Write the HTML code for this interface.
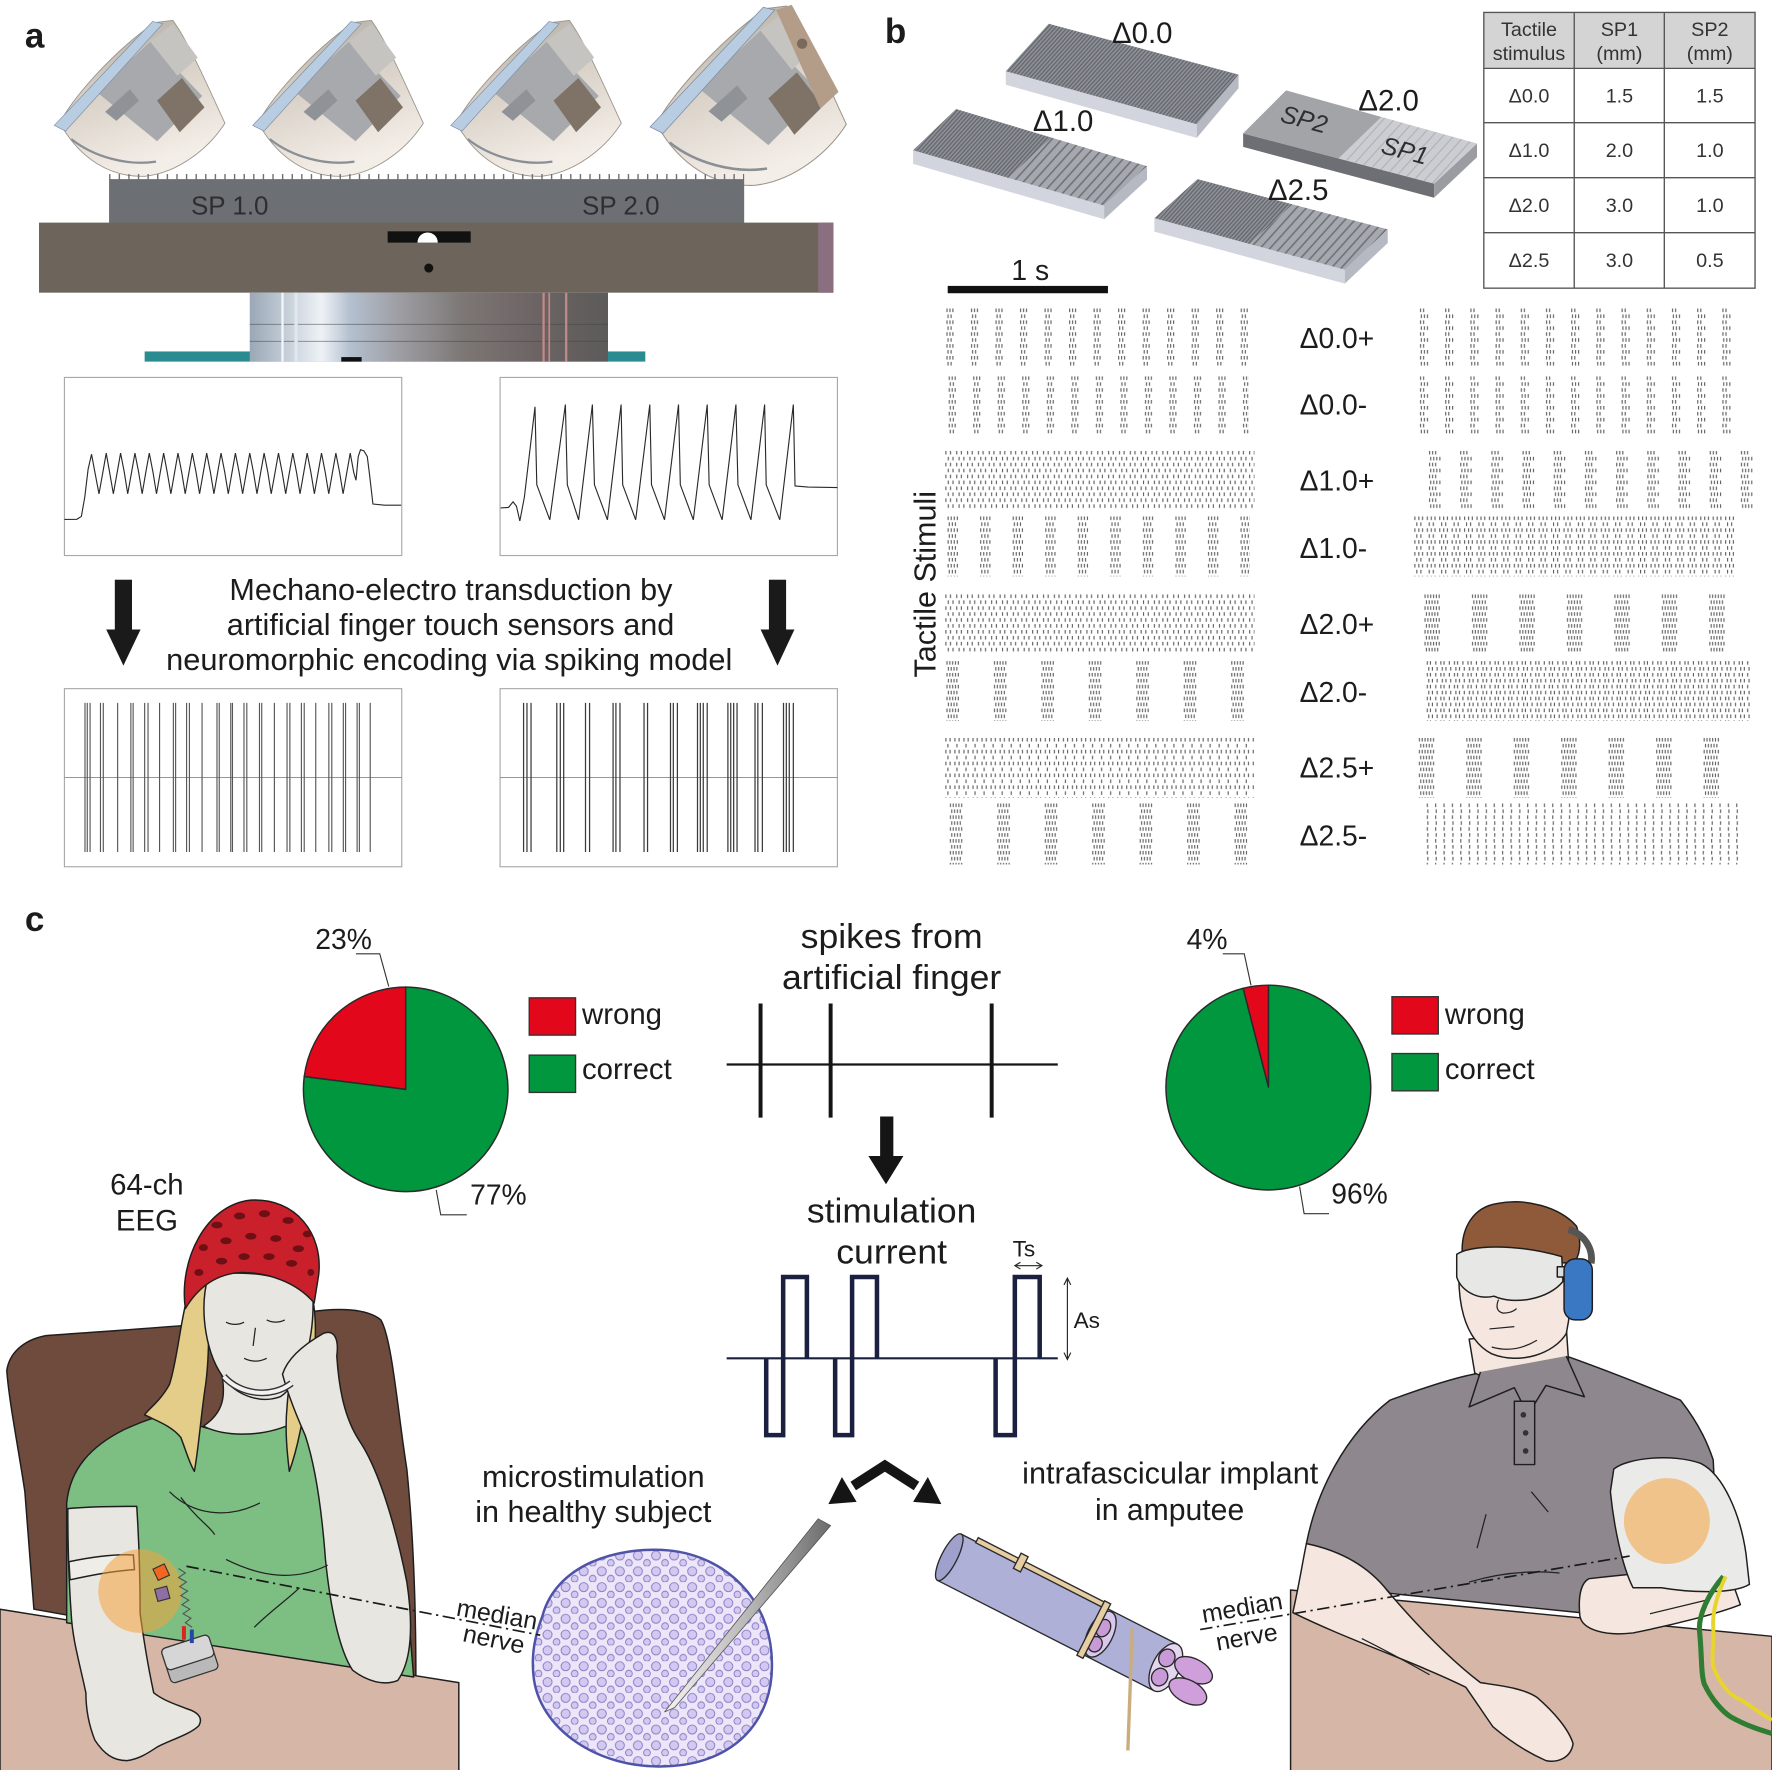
<!DOCTYPE html>
<html><head><meta charset="utf-8"><title>figure</title>
<style>
html,body{margin:0;padding:0;background:#fff;width:1772px;height:1770px;overflow:hidden}
svg{display:block}
text{font-family:"Liberation Sans",Arial,Helvetica,sans-serif;fill:#1c1c1c}
</style></head><body>
<svg xmlns="http://www.w3.org/2000/svg" width="1772" height="1770" viewBox="0 0 1568 1566.3" preserveAspectRatio="none">
<defs>
<linearGradient id="shell" x1="0" y1="0" x2="0.35" y2="1">
<stop offset="0" stop-color="#aaa59e"/><stop offset="0.45" stop-color="#d6cec4"/><stop offset="1" stop-color="#f4eee8"/>
</linearGradient>
<linearGradient id="cyl" x1="0" y1="0" x2="1" y2="0">
<stop offset="0" stop-color="#9aa7b6"/><stop offset="0.1" stop-color="#c4cdd8"/><stop offset="0.2" stop-color="#eef2f6"/><stop offset="0.28" stop-color="#b4c0d0"/><stop offset="0.4" stop-color="#a0a2a8"/><stop offset="0.6" stop-color="#7c7674"/><stop offset="0.8" stop-color="#6c6464"/><stop offset="1" stop-color="#5c5a5a"/>
</linearGradient>
<linearGradient id="needle" x1="0" y1="0" x2="1" y2="0">
<stop offset="0" stop-color="#f4f4f4"/><stop offset="0.5" stop-color="#b8b8b8"/><stop offset="1" stop-color="#6c6c6c"/>
</linearGradient>
<pattern id="teeth" patternUnits="userSpaceOnUse" width="8.5" height="5"><rect x="3" y="0" width="1.2" height="5" fill="#6a6a6a"/></pattern>
<pattern id="fine" patternUnits="userSpaceOnUse" width="2.6" height="10" patternTransform="rotate(42)"><rect width="2.6" height="10" fill="#8e9197"/><rect width="1.1" height="10" fill="#62656b"/></pattern>
<pattern id="coarse" patternUnits="userSpaceOnUse" width="6.5" height="10" patternTransform="rotate(42)"><rect width="6.5" height="10" fill="#a5a8ae"/><rect width="1.4" height="10" fill="#6f7278"/></pattern>
<pattern id="sp1" patternUnits="userSpaceOnUse" width="7" height="10" patternTransform="rotate(42)"><rect width="7" height="10" fill="#cbcdd2"/><rect width="1" height="10" fill="#afb1b6"/></pattern>

<pattern id="rA" patternUnits="userSpaceOnUse" width="21.7" height="10.5"><g fill="#5e5e5e"><rect x="0.5" y="0" width="1" height="3.2"/><rect x="3.1" y="0" width="1" height="3.2"/><rect x="5.7" y="0" width="1" height="3.2"/><rect x="1.4" y="5.25" width="1" height="3.2"/><rect x="4.1" y="5.25" width="1" height="3.2"/></g></pattern>
<pattern id="rB" patternUnits="userSpaceOnUse" width="22.3" height="10.5"><g fill="#5e5e5e"><rect x="0.5" y="0" width="1" height="3.2"/><rect x="3.2" y="0" width="1" height="3.2"/><rect x="1.2" y="5.25" width="1" height="3.2"/><rect x="3.9" y="5.25" width="1" height="3.2"/><rect x="6.6" y="5.25" width="1" height="3.2"/></g></pattern>
<pattern id="rC" patternUnits="userSpaceOnUse" width="9.6" height="10.5"><g fill="#5e5e5e"><rect x="0.5" y="0" width="1" height="3.2"/><rect x="4.6" y="0" width="1" height="3.2"/><rect x="2.6" y="5.25" width="1" height="3.2"/><rect x="6.8" y="5.25" width="1" height="3.2"/></g></pattern>
<pattern id="rD" patternUnits="userSpaceOnUse" width="8" height="10.5"><g fill="#5e5e5e"><rect x="0.5" y="0" width="1" height="3.2"/><rect x="4.2" y="0" width="1" height="3.2"/><rect x="2.3" y="5.25" width="1" height="3.2"/></g></pattern>
<pattern id="rE" patternUnits="userSpaceOnUse" width="28.8" height="10.5"><g fill="#5e5e5e"><rect x="0.5" y="0" width="1" height="3.2"/><rect x="3.2" y="0" width="1" height="3.2"/><rect x="5.9" y="0" width="1" height="3.2"/><rect x="8.6" y="0" width="1" height="3.2"/><rect x="1.5" y="5.25" width="1" height="3.2"/><rect x="4.2" y="5.25" width="1" height="3.2"/><rect x="6.9" y="5.25" width="1" height="3.2"/></g></pattern>
<pattern id="rF" patternUnits="userSpaceOnUse" width="27.6" height="10.5"><g fill="#5e5e5e"><rect x="0.5" y="0" width="1" height="3.2"/><rect x="3.2" y="0" width="1" height="3.2"/><rect x="5.9" y="0" width="1" height="3.2"/><rect x="1.5" y="5.25" width="1" height="3.2"/><rect x="4.2" y="5.25" width="1" height="3.2"/><rect x="6.9" y="5.25" width="1" height="3.2"/><rect x="9.6" y="5.25" width="1" height="3.2"/></g></pattern>
<pattern id="rG" patternUnits="userSpaceOnUse" width="42" height="10.5"><g fill="#5e5e5e"><rect x="0.5" y="0" width="1" height="3.2"/><rect x="3" y="0" width="1" height="3.2"/><rect x="5.5" y="0" width="1" height="3.2"/><rect x="8" y="0" width="1" height="3.2"/><rect x="10.5" y="0" width="1" height="3.2"/><rect x="1.7" y="5.25" width="1" height="3.2"/><rect x="4.2" y="5.25" width="1" height="3.2"/><rect x="6.7" y="5.25" width="1" height="3.2"/><rect x="9.2" y="5.25" width="1" height="3.2"/></g></pattern>
<pattern id="rG2" patternUnits="userSpaceOnUse" width="42" height="10.5"><g fill="#5e5e5e"><rect x="0.5" y="0" width="1" height="3.2"/><rect x="3" y="0" width="1" height="3.2"/><rect x="5.5" y="0" width="1" height="3.2"/><rect x="8" y="0" width="1" height="3.2"/><rect x="10.5" y="0" width="1" height="3.2"/><rect x="13" y="0" width="1" height="3.2"/><rect x="1.7" y="5.25" width="1" height="3.2"/><rect x="4.2" y="5.25" width="1" height="3.2"/><rect x="6.7" y="5.25" width="1" height="3.2"/><rect x="9.2" y="5.25" width="1" height="3.2"/><rect x="11.7" y="5.25" width="1" height="3.2"/></g></pattern>
<pattern id="rH" patternUnits="userSpaceOnUse" width="11" height="10.5"><g fill="#5e5e5e"><rect x="0.5" y="0" width="1" height="3.2"/><rect x="4" y="0" width="1" height="3.2"/><rect x="7.3" y="0" width="1" height="3.2"/><rect x="2.2" y="5.25" width="1" height="3.2"/><rect x="5.8" y="5.25" width="1" height="3.2"/></g></pattern>
<pattern id="rI" patternUnits="userSpaceOnUse" width="12" height="10.5"><g fill="#5e5e5e"><rect x="0.5" y="0" width="1" height="3.2"/><rect x="3.3" y="0" width="1" height="3.2"/><rect x="8" y="0" width="1" height="3.2"/><rect x="1.8" y="5.25" width="1" height="3.2"/><rect x="5" y="5.25" width="1" height="3.2"/><rect x="9.2" y="5.25" width="1" height="3.2"/></g></pattern>
<pattern id="rJ" patternUnits="userSpaceOnUse" width="7.4" height="10.5"><g fill="#5e5e5e"><rect x="0.5" y="0" width="1" height="3.2"/><rect x="1" y="5.25" width="1" height="3.2"/></g></pattern>

<pattern id="fasc" patternUnits="userSpaceOnUse" width="16" height="14"><circle cx="4.5" cy="4.5" r="4" fill="#d3c8ef" stroke="#857bc6" stroke-width="0.8"/><circle cx="12.5" cy="11" r="3" fill="#d3c8ef" stroke="#857bc6" stroke-width="0.8"/></pattern>

<g id="finger">
<path d="M0,0 C8,-18 45,-62 84,-89 L100,-91 C115,-70 132,-30 146,0 C132,22 105,44 75,47 C45,48 18,32 0,0 Z" fill="url(#shell)" stroke="#9c958c" stroke-width="0.8"/>
<polygon points="32,-28 80,-72 126,-24 86,16" fill="#a7a9ad"/>
<polygon points="80,-72 100,-88 122,-58 104,-42" fill="#c6c4c0"/>
<polygon points="86,-20 108,-40 128,-14 106,8" fill="#7e7366"/>
<polygon points="40,-10 62,-30 70,-20 50,-2" fill="#8f9296"/>
<path d="M10,14 C30,30 60,38 85,34" fill="none" stroke="#8a8f96" stroke-width="2"/>
<polygon points="-5,2 82,-90 91,-88 5,7" fill="#b9cde2" stroke="#7d8ea3" stroke-width="0.6"/>
</g>
</defs>

<!-- ============ PANEL A ============ -->
<text x="22" y="42" font-size="31" font-weight="bold">a</text>

<use href="#finger" transform="translate(53,109)"/>
<use href="#finger" transform="translate(228.6,109)"/>
<use href="#finger" transform="translate(403.8,109)"/>
<g transform="translate(581,110) scale(1.15)">
<use href="#finger"/>
<polygon points="92,-88 104,-92 140,-25 126,-12" fill="#b39d88"/>
<circle cx="112" cy="-62" r="4" fill="#7a6a5c"/>
</g>

<rect x="96.5" y="154" width="562" height="5" fill="url(#teeth)"/>
<rect x="96.5" y="158.5" width="562" height="39" fill="#6c7075"/>
<text x="169" y="190" font-size="23" style="fill:#2e2e30">SP 1.0</text>
<text x="515" y="190" font-size="23" style="fill:#2e2e30">SP 2.0</text>

<rect x="34.5" y="197" width="703" height="62" fill="#6d655b"/>
<rect x="724" y="197" width="13.5" height="62" fill="#8a6f80"/>
<rect x="343" y="204.7" width="73.5" height="10" fill="#111"/>
<path d="M369.4,214.7 A9,9 0 0 1 387.4,214.7 Z" fill="#fff"/>
<circle cx="379.4" cy="237.2" r="4" fill="#111"/>

<rect x="128" y="311" width="443" height="9" fill="#2a8c90"/>
<rect x="221" y="259" width="317" height="61" fill="url(#cyl)"/>
<line x1="221" y1="287" x2="538" y2="287" stroke="#444" stroke-width="0.8" opacity="0.6"/>
<line x1="221" y1="302" x2="538" y2="302" stroke="#444" stroke-width="0.8" opacity="0.6"/>
<line x1="481" y1="259" x2="481" y2="320" stroke="#c28a86" stroke-width="2"/>
<line x1="486" y1="259" x2="486" y2="320" stroke="#c28a86" stroke-width="1.5"/>
<line x1="501" y1="259" x2="501" y2="320" stroke="#c28a86" stroke-width="2"/>
<line x1="250" y1="259" x2="250" y2="320" stroke="#f4f6f8" stroke-width="2"/>
<line x1="262" y1="259" x2="262" y2="320" stroke="#dfe6ee" stroke-width="3"/>
<rect x="302" y="316" width="18" height="4" fill="#111"/>

<rect x="57" y="334" width="298.5" height="157.6" fill="none" stroke="#a8a8a8" stroke-width="1"/>
<rect x="442.5" y="334" width="298.5" height="157.6" fill="none" stroke="#a8a8a8" stroke-width="1"/>

<polyline fill="none" stroke="#2a2a2a" stroke-width="1" points="57,459.7 68,459.5 72,457 75,440 78,415 81,402 84,418 87.6,437 91,418 94,401 97,418 100.3,437 103.7,418 106.7,401 110,418 113,437 116.4,418 119.4,401 122.7,418 125.8,437 129,418 132.1,401 135.4,418 138.5,437 141.8,418 144.8,401 148,418 151.2,437 154.5,418 157.5,401 160.8,418 163.9,437 167.2,418 170.2,401 173.5,418 176.6,437 179.9,418 182.9,401 186.2,418 189.3,437 192.6,418 195.6,401 198.9,418 202,437 205.3,418 208.3,401 211.6,418 214.7,437 218,418 221,401 224.3,418 227.4,437 230.7,418 233.7,401 237,418 240,437 243.4,418 246.4,401 249.7,418 252.8,437 256.1,418 259.1,401 262.4,418 265.5,437 268.8,418 271.8,401 275.1,418 278.2,437 281.5,418 284.5,401 287.8,418 290.9,437 294.2,418 297.2,401 300.5,418 303.6,437 306.9,418 309.9,401 313,418 315,425 317,404 319,398 322,399 325,404 327,420 330,446 340,447 355,447"/>

<polyline fill="none" stroke="#2a2a2a" stroke-width="1" points="443,449.5 450,449 454,444 457,448 460,461 464,440 473.4,360 475,429 486.5,460 500.3,358 502,429 512,460 524.2,358 526,429 537.5,460 549.6,358 551,429 562.5,460 575,358 576.5,429 588,460 600.4,358 602,429 613.5,460 625.8,358 627.5,429 639,460 651.2,358 653,429 664.5,460 676.6,358 678,429 690,460 702,358 703.5,430 715,431 741,431.5"/>

<rect x="101.6" y="513" width="15.2" height="46" fill="#1a1a1a"/>
<polygon points="94,557 124.4,557 109.2,589" fill="#1a1a1a"/>
<rect x="680.4" y="513" width="15.2" height="46" fill="#1a1a1a"/>
<polygon points="673,557 703,557 688,589" fill="#1a1a1a"/>

<text x="399" y="531" font-size="27" text-anchor="middle" textLength="392" lengthAdjust="spacingAndGlyphs">Mechano-electro transduction by</text>
<text x="398.7" y="562" font-size="27" text-anchor="middle" textLength="396" lengthAdjust="spacingAndGlyphs">artificial finger touch sensors and</text>
<text x="397.5" y="593" font-size="27" text-anchor="middle" textLength="501" lengthAdjust="spacingAndGlyphs">neuromorphic encoding via spiking model</text>

<rect x="57" y="609.4" width="298.5" height="157.6" fill="none" stroke="#a8a8a8" stroke-width="1"/>
<rect x="442.5" y="609.4" width="298.5" height="157.6" fill="none" stroke="#a8a8a8" stroke-width="1"/>
<line x1="57" y1="688" x2="355.5" y2="688" stroke="#888" stroke-width="0.8"/>
<line x1="442.5" y1="688" x2="741" y2="688" stroke="#888" stroke-width="0.8"/>
<path stroke="#555" stroke-width="1" fill="none" d="M75.2,622V754M77.2,622V754M79.7,622V754M88.9,622V754M91.4,622V754M104.1,622V754M115.8,622V754M117.8,622V754M128,622V754M131,622V754M141.2,622V754M153.4,622V754M155.4,622V754M165.1,622V754M167.6,622V754M178.8,622V754M192,622V754M194,622V754M204.2,622V754M205.7,622V754M215.9,622V754M218.4,622V754M229.6,622V754M231.6,622V754M242.8,622V754M254,622V754M256.5,622V754M266.7,622V754M269.2,622V754M279.4,622V754M291,622V754M293.6,622V754M303.8,622V754M305.8,622V754M316,622V754M318,622V754M327.6,622V754"/>
<path stroke="#3a3a3a" stroke-width="1.1" fill="none" d="M463.3,622V754M466.3,622V754M469.9,622V754M492.7,622V754M495.8,622V754M498.8,622V754M518.1,622V754M521.7,622V754M542.5,622V754M545,622V754M548.6,622V754M569.9,622V754M573,622V754M593.3,622V754M595.8,622V754M599.4,622V754M617.2,622V754M619.7,622V754M622.3,622V754M625.8,622V754M644.1,622V754M646.6,622V754M649.2,622V754M652.2,622V754M668.1,622V754M670.6,622V754M674.6,622V754M693.3,622V754M695.8,622V754M698.4,622V754M702,622V754"/>

<!-- ============ PANEL B ============ -->
<text x="783" y="38" font-size="31" font-weight="bold">b</text>

<polygon points="890,63 1059,110 1059,122 890,75" fill="#d2d5de"/>
<polygon points="1059,110 1096,66 1096,78 1059,122" fill="#b6b9c2"/>
<polygon points="890,63 928,21 1096,66 1059,110" fill="url(#fine)"/>

<polygon points="808,133 977,182 977,194 808,145" fill="#d2d5de"/>
<polygon points="977,182 1015,147 1015,159 977,194" fill="#b6b9c2"/>
<polygon points="808,133 846,96.5 930.5,121.8 892.5,157.5" fill="url(#fine)"/>
<polygon points="930.5,121.8 1015,147 977,182 892.5,157.5" fill="url(#coarse)"/>

<polygon points="1100,118 1269,162.5 1269,175 1100,130" fill="#6e6f74"/>
<polygon points="1269,162.5 1307,127 1307,139 1269,175" fill="#9a9ca2"/>
<polygon points="1100,118 1138,80 1222.5,103.5 1184.5,140.3" fill="#a3a4a8"/>
<polygon points="1222.5,103.5 1307,127 1269,162.5 1184.5,140.3" fill="url(#sp1)"/>
<text x="1133" y="112" font-size="22" font-style="italic" transform="rotate(15 1150 106)" style="fill:#2e2e2e">SP2</text>
<text x="1222" y="140" font-size="22" font-style="italic" transform="rotate(15 1240 134)" style="fill:#2e2e2e">SP1</text>

<polygon points="1021.5,193 1190,238.7 1190,251 1021.5,205" fill="#d2d5de"/>
<polygon points="1190,238.7 1228,203 1228,215 1190,251" fill="#b6b9c2"/>
<polygon points="1021.5,193 1059.6,158.5 1143.8,180.8 1105.8,215.9" fill="url(#fine)"/>
<polygon points="1143.8,180.8 1228,203 1190,238.7 1105.8,215.9" fill="url(#coarse)"/>

<text x="984" y="38" font-size="26">Δ0.0</text>
<text x="914" y="116" font-size="26">Δ1.0</text>
<text x="1202" y="98" font-size="26">Δ2.0</text>
<text x="1122" y="177" font-size="26">Δ2.5</text>

<rect x="1313" y="11" width="240" height="49.5" fill="#d4d4d4"/>
<g stroke="#555" stroke-width="1.2" fill="none">
<rect x="1313" y="11" width="240" height="244"/>
<line x1="1393" y1="11" x2="1393" y2="255"/>
<line x1="1472.7" y1="11" x2="1472.7" y2="255"/>
<line x1="1313" y1="60.5" x2="1553" y2="60.5"/>
<line x1="1313" y1="108.6" x2="1553" y2="108.6"/>
<line x1="1313" y1="157.2" x2="1553" y2="157.2"/>
<line x1="1313" y1="205.9" x2="1553" y2="205.9"/>
</g>
<g font-size="17.5" text-anchor="middle">
<text x="1353" y="32" style="fill:#333">Tactile</text><text x="1353" y="53" style="fill:#333">stimulus</text>
<text x="1433" y="32" style="fill:#333">SP1</text><text x="1433" y="53" style="fill:#333">(mm)</text>
<text x="1513" y="32" style="fill:#333">SP2</text><text x="1513" y="53" style="fill:#333">(mm)</text>
<text x="1353" y="90.5" style="fill:#333">Δ0.0</text><text x="1433" y="90.5" style="fill:#333">1.5</text><text x="1513" y="90.5" style="fill:#333">1.5</text>
<text x="1353" y="139" style="fill:#333">Δ1.0</text><text x="1433" y="139" style="fill:#333">2.0</text><text x="1513" y="139" style="fill:#333">1.0</text>
<text x="1353" y="187.5" style="fill:#333">Δ2.0</text><text x="1433" y="187.5" style="fill:#333">3.0</text><text x="1513" y="187.5" style="fill:#333">1.0</text>
<text x="1353" y="236.5" style="fill:#333">Δ2.5</text><text x="1433" y="236.5" style="fill:#333">3.0</text><text x="1513" y="236.5" style="fill:#333">0.5</text>
</g>

<text x="895" y="248" font-size="25">1 s</text>
<rect x="838.6" y="253" width="141.8" height="6.5" fill="#111"/>

<text transform="translate(828,517) rotate(-90)" text-anchor="middle" font-size="27">Tactile Stimuli</text>

<rect transform="translate(837,273)" width="268" height="52" fill="url(#rA)"/>
<rect transform="translate(839,333)" width="266" height="52" fill="url(#rA)"/>
<rect transform="translate(836,399)" width="274" height="51" fill="url(#rC)"/>
<rect transform="translate(838,457)" width="268" height="53" fill="url(#rE)"/>
<rect transform="translate(836,526)" width="274" height="52" fill="url(#rC)"/>
<rect transform="translate(837,585)" width="272" height="53" fill="url(#rG)"/>
<rect transform="translate(836,653)" width="274" height="53" fill="url(#rD)"/>
<rect transform="translate(840,711)" width="270" height="54" fill="url(#rG)"/>

<rect transform="translate(1256,273)" width="290" height="52" fill="url(#rB)"/>
<rect transform="translate(1256,333)" width="285" height="52" fill="url(#rB)"/>
<rect transform="translate(1264,399)" width="288" height="51" fill="url(#rF)"/>
<rect transform="translate(1251,457)" width="284" height="53" fill="url(#rH)"/>
<rect transform="translate(1260,526)" width="272" height="52" fill="url(#rG2)"/>
<rect transform="translate(1262,585)" width="288" height="53" fill="url(#rI)"/>
<rect transform="translate(1255,653)" width="275" height="53" fill="url(#rG2)"/>
<rect transform="translate(1262,711)" width="280" height="54" fill="url(#rJ)"/>

<g font-size="25">
<text x="1150" y="308">Δ0.0+</text>
<text x="1150" y="367">Δ0.0-</text>
<text x="1150" y="434">Δ1.0+</text>
<text x="1150" y="494">Δ1.0-</text>
<text x="1150" y="561">Δ2.0+</text>
<text x="1150" y="621">Δ2.0-</text>
<text x="1150" y="688">Δ2.5+</text>
<text x="1150" y="748">Δ2.5-</text>
</g>

<!-- ============ PANEL C ============ -->
<text x="22" y="824" font-size="31" font-weight="bold">c</text>

<path d="M359,964 L359,873.5 A90.5,90.5 0 0 0 269.2,952.7 Z" fill="#e2071b" stroke="#2a2a2a" stroke-width="1.3"/>
<path d="M359,964 L269.2,952.7 A90.5,90.5 0 1 0 359,873.5 Z" fill="#00973f" stroke="#2a2a2a" stroke-width="1.3"/>
<text x="279" y="840" font-size="25">23%</text>
<polyline points="315,844 336,844 344,873" fill="none" stroke="#333" stroke-width="1"/>
<text x="416" y="1066" font-size="25">77%</text>
<polyline points="386,1053 390,1075 413,1075" fill="none" stroke="#333" stroke-width="1"/>
<rect x="468.3" y="883" width="41" height="33" fill="#e2071b" stroke="#333" stroke-width="1.2"/>
<rect x="468.3" y="933.7" width="41" height="33" fill="#00973f" stroke="#333" stroke-width="1.2"/>
<text x="515" y="906" font-size="26">wrong</text>
<text x="515" y="955" font-size="26">correct</text>

<path d="M1122.5,962.4 L1122.5,871.8 A90.6,90.6 0 0 0 1100,874.6 Z" fill="#e2071b" stroke="#2a2a2a" stroke-width="1.3"/>
<path d="M1122.5,962.4 L1100,874.6 A90.6,90.6 0 1 0 1122.5,871.8 Z" fill="#00973f" stroke="#2a2a2a" stroke-width="1.3"/>
<text x="1050" y="840" font-size="25">4%</text>
<polyline points="1082,844 1101,844 1107,872" fill="none" stroke="#333" stroke-width="1"/>
<text x="1178" y="1065" font-size="25">96%</text>
<polyline points="1150,1050 1154,1074 1176,1074" fill="none" stroke="#333" stroke-width="1"/>
<rect x="1231.7" y="882" width="41" height="33" fill="#e2071b" stroke="#333" stroke-width="1.2"/>
<rect x="1231.7" y="932.3" width="41" height="33" fill="#00973f" stroke="#333" stroke-width="1.2"/>
<text x="1278.5" y="906" font-size="26">wrong</text>
<text x="1278.5" y="955" font-size="26">correct</text>

<text x="789" y="839" font-size="30" text-anchor="middle" textLength="161" lengthAdjust="spacingAndGlyphs">spikes from</text>
<text x="789" y="875" font-size="30" text-anchor="middle" textLength="194" lengthAdjust="spacingAndGlyphs">artificial finger</text>
<line x1="643" y1="942" x2="936" y2="942" stroke="#151515" stroke-width="2"/>
<g stroke="#151515" stroke-width="3.5"><line x1="673" y1="888" x2="673" y2="989"/><line x1="735" y1="888" x2="735" y2="989"/><line x1="877.5" y1="888" x2="877.5" y2="989"/></g>
<rect x="778.8" y="988" width="11.7" height="36" fill="#151515"/>
<polygon points="768.4,1023 799.4,1023 784,1048" fill="#151515"/>
<text x="789" y="1082" font-size="30" text-anchor="middle" textLength="150" lengthAdjust="spacingAndGlyphs">stimulation</text>
<text x="789" y="1118" font-size="30" text-anchor="middle" textLength="98" lengthAdjust="spacingAndGlyphs">current</text>

<line x1="643" y1="1202" x2="936" y2="1202" stroke="#1b2040" stroke-width="1.8"/>
<path d="M678,1202 V1270 H693 V1130 H714 V1202 M739,1202 V1270 H754 V1130 H776 V1202 M881,1202 V1270 H898 V1130 H920 V1202" fill="none" stroke="#1b2040" stroke-width="4"/>
<text x="896" y="1112" font-size="20">Ts</text>
<line x1="899" y1="1120" x2="921" y2="1120" stroke="#222" stroke-width="1"/>
<polyline points="903,1117 898,1120 903,1123" fill="none" stroke="#222" stroke-width="1"/>
<polyline points="917,1117 922,1120 917,1123" fill="none" stroke="#222" stroke-width="1"/>
<line x1="944.5" y1="1132" x2="944.5" y2="1202" stroke="#222" stroke-width="1"/>
<polyline points="941.5,1137 944.5,1131 947.5,1137" fill="none" stroke="#222" stroke-width="1"/>
<polyline points="941.5,1197 944.5,1203 947.5,1197" fill="none" stroke="#222" stroke-width="1"/>
<text x="950" y="1175" font-size="20">As</text>

<polyline points="755,1315 783,1297 811,1315" fill="none" stroke="#151515" stroke-width="9" stroke-linejoin="miter"/>
<polygon points="733,1331 758,1329 745,1307" fill="#151515"/>
<polygon points="833,1331 808,1329 821,1307" fill="#151515"/>

<text x="525" y="1316" font-size="27" text-anchor="middle" textLength="197" lengthAdjust="spacingAndGlyphs">microstimulation</text>
<text x="525" y="1347" font-size="27" text-anchor="middle" textLength="209" lengthAdjust="spacingAndGlyphs">in healthy subject</text>
<text x="1035.5" y="1313" font-size="27" text-anchor="middle" textLength="262" lengthAdjust="spacingAndGlyphs">intrafascicular implant</text>
<text x="1035" y="1345" font-size="27" text-anchor="middle" textLength="132" lengthAdjust="spacingAndGlyphs">in amputee</text>

<path d="M480,1430 C492,1385 545,1368 592,1372 C642,1377 682,1415 683,1470 C685,1522 650,1561 590,1563 C530,1566 476,1530 472,1482 C470,1462 474,1446 480,1430 Z" fill="#ece6f8"/>
<path d="M480,1430 C492,1385 545,1368 592,1372 C642,1377 682,1415 683,1470 C685,1522 650,1561 590,1563 C530,1566 476,1530 472,1482 C470,1462 474,1446 480,1430 Z" fill="url(#fasc)" stroke="#4f53a8" stroke-width="2.2"/>
<polygon points="724,1344 735,1350 597,1511 588,1515" fill="url(#needle)" stroke="#555" stroke-width="0.7"/>

<g transform="translate(840,1378) rotate(27)" stroke="#2a2a2a" stroke-width="1.2">
<rect x="0" y="-23" width="215" height="46" fill="#aeb0d8"/>
<ellipse cx="0" cy="0" rx="7" ry="23" fill="#9fa1cc"/>
<ellipse cx="215" cy="0" rx="12" ry="23" fill="#e3d6ef"/>
<ellipse cx="212" cy="-8" rx="7" ry="8" fill="#c99ad8"/>
<ellipse cx="214" cy="10" rx="7" ry="8" fill="#c99ad8"/>
<ellipse cx="150" cy="0" rx="11" ry="22" fill="#d8c8ec"/>
<ellipse cx="150" cy="-6" rx="6" ry="8" fill="#c99ad8"/>
<ellipse cx="150" cy="10" rx="6" ry="7" fill="#c99ad8"/>
<ellipse cx="238" cy="-9" rx="18" ry="10" fill="#cf9fdc"/>
<ellipse cx="242" cy="10" rx="18" ry="10" fill="#cf9fdc"/>
<rect x="15" y="-27" width="130" height="5" fill="#e6cda2"/>
<rect x="55" y="-32" width="7" height="15" fill="#e6cda2"/>
<rect x="140" y="-28" width="6" height="54" fill="#e6cda2"/>
</g>
<line x1="1002" y1="1440" x2="998" y2="1549" stroke="#c9ad7e" stroke-width="3"/>

<!-- LEFT PERSON -->
<g stroke="#1e1e1e" stroke-width="1.3" stroke-linejoin="round">
<path d="M30,1424 L22,1320 C16,1280 8,1240 6,1213 C8,1198 20,1186 40,1182 C90,1178 200,1172 274,1161 C300,1157 325,1158 337,1168 C347,1185 352,1250 360,1300 C366,1360 368,1420 368,1484 Z" fill="#6e4b3d"/>
<path d="M0,1424 L406,1489 L406,1567 L0,1567 Z" fill="#d6b6a6"/>
<path d="M59,1436 L59,1330 C62,1300 80,1280 110,1265 C130,1256 145,1250 160,1255 C185,1268 220,1272 250,1262 L262,1258 C285,1258 305,1268 318,1282 C335,1310 350,1360 360,1410 L366,1484 Z" fill="#7dbf83"/>
<path d="M196,1215 C200,1235 198,1250 180,1262 C200,1272 235,1272 262,1258 C258,1245 255,1232 256,1218 Z" fill="#e8e6e0"/>
<path d="M170,1135 C160,1160 158,1200 150,1225 C142,1240 130,1248 128,1252 C140,1258 152,1262 160,1272 C165,1285 168,1296 172,1302 C176,1280 178,1250 182,1225 C186,1195 184,1160 186,1132 Z" fill="#e3cd88"/>
<path d="M274,1138 C282,1165 280,1200 272,1230 C268,1255 264,1280 256,1302 C254,1285 252,1265 254,1245 C256,1215 262,1185 262,1150 Z" fill="#e3cd88"/>
<path d="M184,1130 C176,1160 182,1200 200,1222 C212,1236 232,1242 248,1236 C266,1224 278,1190 277,1148 C262,1128 210,1122 184,1130 Z" fill="#e8e6e0"/>
<path d="M164,1158 C158,1115 182,1066 222,1062 C262,1060 286,1092 282,1128 L278,1153 C262,1134 236,1126 214,1126 C192,1127 176,1138 164,1158 Z" fill="#c9202c"/>
<path d="M60,1335 C80,1333 105,1333 121,1333 C124,1380 124,1410 124,1428 C127,1450 130,1470 136,1498 C145,1505 155,1508 165,1512 C175,1515 180,1520 176,1527 C168,1535 150,1540 139,1546 C130,1552 122,1557 112,1558 C100,1558 92,1552 84,1540 C78,1525 76,1510 76,1498 C70,1470 64,1450 63,1428 C61,1400 60,1370 60,1335 Z" fill="#e8e6e0"/>
<path d="M61,1382 C80,1378 100,1375 118,1376 L119,1389 C100,1390 80,1394 62,1398 Z" fill="#efede8"/>
<path d="M250,1216 C255,1200 272,1188 286,1180 C296,1176 300,1185 298,1200 C300,1230 305,1255 318,1275 C335,1300 350,1350 360,1400 C366,1440 364,1470 352,1487 C340,1492 325,1488 312,1478 C300,1460 292,1420 288,1380 C285,1340 280,1300 270,1270 C262,1252 255,1235 250,1216 Z" fill="#e8e6e0"/>
</g>
<g fill="#6e0f14">
<ellipse cx="192" cy="1084" rx="5" ry="3"/><ellipse cx="212" cy="1076" rx="5" ry="3"/><ellipse cx="234" cy="1074" rx="5" ry="3"/><ellipse cx="255" cy="1080" rx="5" ry="3"/><ellipse cx="272" cy="1092" rx="4" ry="3"/>
<ellipse cx="180" cy="1104" rx="4" ry="3"/><ellipse cx="200" cy="1098" rx="5" ry="3"/><ellipse cx="222" cy="1094" rx="5" ry="3"/><ellipse cx="244" cy="1096" rx="5" ry="3"/><ellipse cx="264" cy="1105" rx="5" ry="3"/>
<ellipse cx="176" cy="1126" rx="4" ry="3"/><ellipse cx="196" cy="1116" rx="5" ry="3"/><ellipse cx="216" cy="1112" rx="5" ry="3"/><ellipse cx="238" cy="1112" rx="5" ry="3"/><ellipse cx="258" cy="1118" rx="5" ry="3"/><ellipse cx="275" cy="1126" rx="3" ry="3"/>
</g>
<g fill="none" stroke="#222" stroke-width="1.1">
<path d="M200,1170 q8,4 16,0"/><path d="M236,1168 q8,4 16,0"/><path d="M226,1175 l-2,16"/><path d="M216,1202 q10,5 20,0"/>
<path d="M198,1218 C212,1234 240,1238 258,1224" stroke="#333" stroke-width="6"/>
<path d="M198,1218 C212,1234 240,1238 258,1224" stroke="#f2f2f2" stroke-width="3.5"/>
<path d="M150,1320 C170,1340 200,1345 230,1330"/><path d="M200,1380 C230,1395 260,1400 290,1385"/>
<path d="M160,1325 C175,1345 185,1350 190,1358"/><path d="M225,1440 C240,1425 255,1415 265,1405"/>
</g>
<circle cx="124" cy="1408" r="37" fill="#f4a33c" opacity="0.55"/>
<rect x="137" y="1386" width="11" height="11" fill="#f2661f" stroke="#333" transform="rotate(-25 142 1391)"/>
<rect x="138" y="1405" width="11" height="11" fill="#8f6ea3" stroke="#333" transform="rotate(-15 143 1410)"/>
<polyline points="158,1388 164,1392 158,1396 165,1400 159,1404 166,1408 160,1412 167,1416 161,1420 168,1424 162,1428 169,1432 164,1436 170,1440" fill="none" stroke="#555" stroke-width="1"/>
<g transform="translate(168,1468) rotate(-18)">
<rect x="-22" y="-16" width="44" height="32" rx="4" fill="#b9b9b9" stroke="#333" stroke-width="1.1"/>
<rect x="-22" y="-16" width="44" height="20" rx="4" fill="#d6d6d6" stroke="#333" stroke-width="1.1"/>
</g>
<rect x="161" y="1439" width="3.5" height="12" fill="#d22"/>
<rect x="168" y="1442" width="3.5" height="12" fill="#2346a8"/>

<text x="130" y="1057" font-size="26" text-anchor="middle">64-ch</text>
<text x="130" y="1089" font-size="26" text-anchor="middle">EEG</text>

<!-- RIGHT PERSON -->
<g stroke="#1e1e1e" stroke-width="1.3" stroke-linejoin="round">
<path d="M1142,1407 L1568,1448 L1568,1567 L1142,1567 Z" fill="#d6b6a6"/>
<path d="M1156,1366 C1165,1320 1190,1270 1230,1239 C1260,1228 1290,1218 1310,1215 L1386,1200 C1420,1212 1460,1228 1487,1239 C1505,1262 1512,1280 1516,1292 L1520,1380 C1480,1405 1440,1420 1398,1427 L1230,1410 C1220,1398 1200,1385 1156,1366 Z" fill="#8e888e"/>
<path d="M1300,1185 L1305,1215 C1330,1228 1370,1224 1388,1205 L1386,1175 Z" fill="#f5e7df"/>
<path d="M1310,1214 L1300,1245 L1340,1228 L1352,1252 L1368,1226 L1402,1236 L1386,1200" fill="#8e888e"/>
<rect x="1340" y="1240" width="18" height="56" fill="#8e888e"/>
<path d="M1292,1110 C1288,1150 1295,1185 1320,1198 C1345,1208 1375,1198 1386,1180 C1392,1150 1392,1120 1388,1105 Z" fill="#f5e7df"/>
<path d="M1294,1112 C1292,1085 1305,1068 1325,1065 C1350,1060 1380,1068 1395,1085 C1400,1100 1398,1112 1392,1118 L1294,1112 Z" fill="#8e5a3a"/>
<path d="M1289,1110 C1300,1102 1340,1100 1382,1112 L1383,1134 C1370,1150 1340,1155 1322,1147 C1305,1151 1292,1140 1289,1130 Z" fill="#e7e7e5"/>
<path d="M1388,1088 C1402,1092 1410,1105 1408,1118" fill="none" stroke="#555" stroke-width="6"/>
<rect x="1378" y="1121" width="14" height="9" fill="#ddd"/>
<rect x="1384" y="1114" width="25" height="54" rx="10" fill="#3b78c4"/>
<path d="M1144,1427 C1150,1400 1153,1380 1156,1366 C1185,1372 1210,1385 1228,1408 C1255,1440 1285,1470 1310,1489 C1330,1492 1348,1494 1360,1502 C1375,1515 1388,1530 1392,1543 C1390,1556 1378,1560 1368,1558 C1350,1550 1335,1540 1321,1528 C1312,1515 1302,1500 1297,1493 C1250,1470 1190,1450 1144,1427 Z" fill="#f5e7df"/>
<path d="M1398,1430 C1396,1410 1400,1400 1406,1397 C1450,1392 1500,1388 1528,1386 L1540,1420 C1520,1428 1480,1438 1445,1445 C1420,1448 1400,1442 1398,1430 Z" fill="#f5e7df"/>
<path d="M1428,1300 C1440,1290 1480,1286 1505,1295 C1525,1305 1540,1340 1545,1375 L1548,1402 C1535,1410 1500,1410 1470,1405 L1445,1405 C1435,1385 1428,1350 1425,1320 Z" fill="#eaeae8"/>
</g>
<g fill="#333"><circle cx="1348" cy="1252" r="2.5"/><circle cx="1350" cy="1268" r="2.5"/><circle cx="1350" cy="1284" r="2.5"/></g>
<g fill="none" stroke="#222" stroke-width="1.1">
<path d="M1326,1150 q-4,10 4,12 q8,0 12,-4"/><path d="M1318,1176 l22,-2"/><path d="M1320,1192 q20,6 40,-6"/>
<path d="M1315,1340 l-8,30"/><path d="M1355,1320 l15,18"/><path d="M1300,1400 q40,-12 80,-8"/>
<path d="M1205,1450 q30,15 60,32"/><path d="M1460,1428 l50,-12"/>
</g>
<circle cx="1475" cy="1346" r="38" fill="#f4a33c" opacity="0.55"/>
<path d="M1525,1395 C1512,1410 1502,1430 1504,1445 C1506,1465 1505,1480 1508,1490 C1515,1505 1525,1515 1531,1519 C1545,1527 1558,1531 1568,1534" fill="none" stroke="#2e7d32" stroke-width="4.5"/>
<path d="M1527,1395 C1520,1410 1515,1425 1516,1440 C1517,1455 1514,1465 1516,1475 C1522,1490 1530,1500 1540,1504 C1550,1510 1560,1518 1568,1522" fill="none" stroke="#e7d42c" stroke-width="3.5"/>

<g fill="none" stroke="#1a1a1a" stroke-width="1.5" stroke-dasharray="11 4 2 4">
<line x1="165" y1="1386" x2="478" y2="1447"/>
<line x1="1062" y1="1442" x2="1442" y2="1377"/>
</g>
<text x="440" y="1436" font-size="22" text-anchor="middle" transform="rotate(10 440 1428)">median</text>
<text x="437" y="1458" font-size="22" text-anchor="middle" transform="rotate(12 437 1451)">nerve</text>
<text x="1099" y="1430" font-size="22" text-anchor="middle" transform="rotate(-10 1099 1422)">median</text>
<text x="1103" y="1456" font-size="22" text-anchor="middle" transform="rotate(-10 1103 1448)">nerve</text>
</svg>
</body></html>
